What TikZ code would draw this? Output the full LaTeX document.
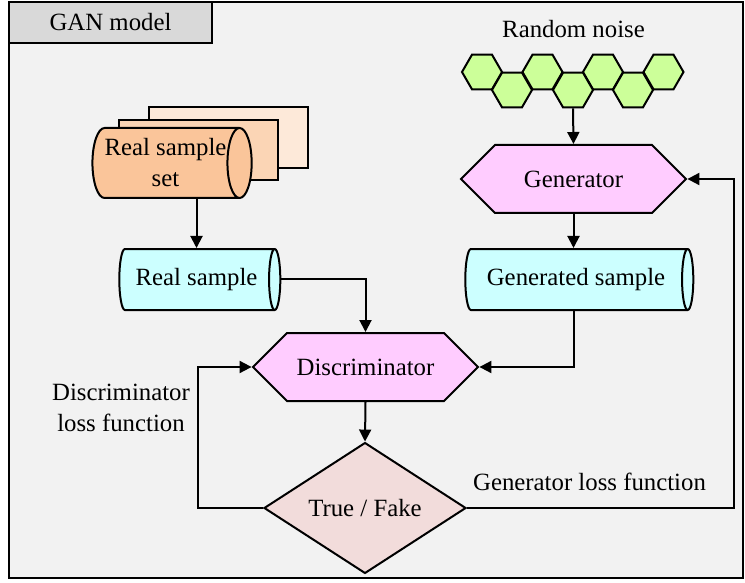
\documentclass[tikz,border=0pt]{standalone}
\usepackage{fontspec}
\setmainfont{Liberation Serif}
\usetikzlibrary{shapes.geometric,shapes.symbols,arrows.meta}
\definecolor{fond}{HTML}{F2F2F2}
\definecolor{onglet}{HTML}{D9D9D9}
\definecolor{vert}{HTML}{CCFF99}
\definecolor{rose}{HTML}{FFCCFF}
\definecolor{cyan}{HTML}{CCFFFF}
\definecolor{saumon}{HTML}{F2DCDB}
\definecolor{orange1}{HTML}{FAC59A}
\definecolor{orange2}{HTML}{FBD5B5}
\definecolor{orange3}{HTML}{FDE9D9}
\tikzset{
  trait/.style={line width=1pt},
  fleche/.style={trait, -{Triangle[length=6pt,width=6pt]}},
  hexa/.style={signal, signal to=west and east, signal pointer angle=90, draw, trait,
    fill=rose, minimum height=34pt, inner sep=0pt},
  tube/.style={cylinder, shape border rotate=0, aspect=0.5, draw, trait, inner sep=0pt,
    minimum width=30.5pt, align=center},
  alveole/.style={regular polygon, regular polygon sides=6, minimum size=20pt,
    inner sep=0pt, draw, trait, fill=vert},
  losange/.style={diamond, draw, trait, fill=saumon, minimum width=101pt,
    minimum height=65pt, inner sep=0pt},
}
\begin{document}
\begin{tikzpicture}[x=0.5pt, y=-0.5pt, font=\fontsize{12.4}{15.5}\selectfont]
  \useasboundingbox (0,0) rectangle (745,583);

  % Cadre du modèle
  \draw[trait, fill=fond] (9,2) rectangle (743,578);
  \draw[trait, fill=onglet] (9,2) rectangle (212,43);
  \node (titre) at (110.5,22.5) {GAN model};

  % Bruit aléatoire
  \node (bruit) at (573.5,29) {Random noise};
  \foreach \i/\x in {1/482,2/542.5,3/603,4/663.5}
    \node[alveole] (h\i) at (\x,72) {};
  \foreach \i/\x in {5/512,6/573,7/633}
    \node[alveole] (h\i) at (\x,90) {};

  % Générateur et échantillon généré
  \node[hexa, minimum width=112.5pt] (gen) at (573.5,179) {Generator};
  \node[tube, fill=cyan, minimum height=114pt] (gs) at (576,279.5) {Generated sample};

  % Ensemble d'échantillons réels
  \node[tube, fill=orange3, minimum height=79.5pt, minimum width=30.5pt] (set3) at (227.5,137.5) {};
  \node[tube, fill=orange2, minimum height=79.5pt, minimum width=30pt] (set2) at (197.5,150) {};
  \node[tube, fill=orange1, minimum height=79.5pt, minimum width=35pt] (set) at (165.5,163) {Real sample\\set};
  \node[tube, fill=cyan, minimum height=80.5pt] (rs) at (196.5,279.5) {Real sample};

  % Discriminateur et décision
  \node[hexa, minimum width=112.5pt] (disc) at (365.5,367) {Discriminator};
  \node[losange] (tf) at (365,508) {True / Fake};

  % Fonctions de perte
  \node[align=center] (dloss) at (121,408) {Discriminator\\loss function};
  \node (gloss) at (589.5,482) {Generator loss function};
  \coordinate (dl) at (198,508);
  \coordinate (gl) at (734,508);

  % Flèches
  \draw[fleche] (h6.south) -- (gen.north);
  \draw[fleche] (gen.south) -- (gen.south |- gs.north);
  \draw[fleche] (rs.north |- set.south) -- (rs.north);
  \draw[fleche] (rs.east) -| (disc.north);
  \draw[fleche] (gs.south -| gen.south) |- (disc.east);
  \draw[fleche] (disc.south) -- (tf.north);
  \draw[fleche] (tf.west) -- (dl) |- (disc.west);
  \draw[fleche] (tf.east) -- (gl) |- (gen.east);
\end{tikzpicture}
\end{document}
